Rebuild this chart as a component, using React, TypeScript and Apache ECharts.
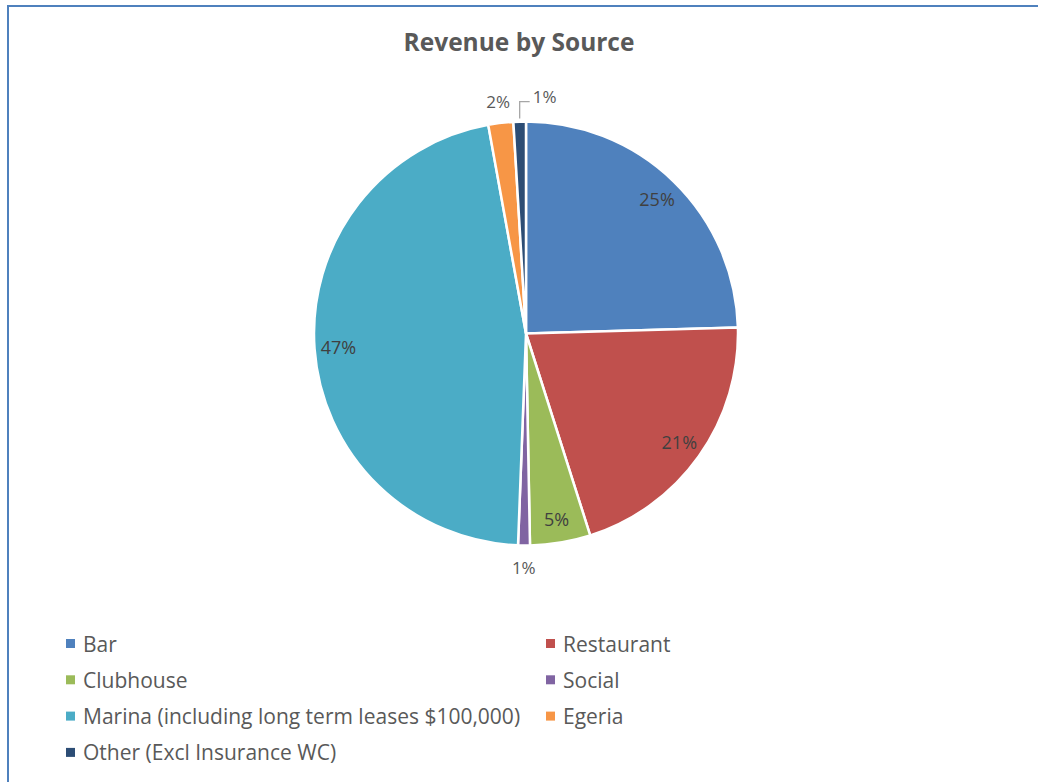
import React, { useEffect, useRef } from "react";
import * as echarts from "echarts";

const categories = [
  "Bar",
  "Restaurant",
  "Clubhouse",
  "Social",
  "Marina (including long term leases $100,000)",
  "Egeria",
  "Other (Excl Insurance WC)",
];
const shares = [24.55, 20.55, 4.6, 0.9, 46.55, 1.9, 0.95];
const colors = ["#4F81BD", "#C0504D", "#9BBB59", "#8064A2", "#4BACC6", "#F79646", "#2C4D75"];
const legendLeft = [categories[0], categories[2], categories[4], categories[6]];
const legendRight = [categories[1], categories[3], categories[5]];
const titleText = "Revenue by Source";

const FONT = "'Open Sans', sans-serif";

export default function App() {
  const ref = useRef<HTMLDivElement>(null);
  useEffect(() => {
    if (!ref.current) return;
    const chart = echarts.init(ref.current, null, { renderer: "svg" });
    const total = shares.reduce((a, b) => a + b, 0);
    const pct = (v: number) => Math.round((v / total) * 100);
    const leaderIdx = categories.length - 1;
    const center = [526, 333.5];
    const R = 212;
    const fmt = (p: any) => pct(p.value) + "%";

    const mainData = categories.map((name, i) => ({
      name,
      value: shares[i],
      itemStyle: { color: colors[i] },
      label:
        i === leaderIdx
          ? { show: true, position: "outside", color: "#595959", fontSize: 17, fontFamily: FONT, formatter: fmt }
          : { show: false },
      labelLine:
        i === leaderIdx
          ? { show: true, length: 16, length2: 10, lineStyle: { color: "#A6A6A6", width: 1.3 } }
          : { show: false },
    }));

    const insideData = categories.map((name, i) => ({
      name,
      value: shares[i],
      itemStyle: { color: "rgba(0,0,0,0)", borderWidth: 0 },
      label: { show: pct(shares[i]) >= 4 },
    }));

    const outsideData = categories.map((name, i) => ({
      name,
      value: shares[i],
      itemStyle: { color: "rgba(0,0,0,0)", borderWidth: 0 },
      label: { show: pct(shares[i]) < 4 && i !== leaderIdx },
    }));

    const legendBase = {
      orient: "vertical",
      top: 633,
      padding: 0,
      itemWidth: 9,
      itemHeight: 9,
      itemGap: 15.3,
      icon: "rect",
      selectedMode: false,
      itemStyle: { borderWidth: 0 },
      textStyle: {
        color: "#595959",
        fontSize: 21,
        fontFamily: FONT,
        lineHeight: 20,
        padding: [0, 0, 0, 3],
      },
    };

    chart.setOption({
      animation: false,
      backgroundColor: "#ffffff",
      title: {
        text: titleText,
        left: "center",
        top: 29,
        padding: 0,
        textStyle: { color: "#595959", fontSize: 24.5, fontWeight: "bold", fontFamily: FONT },
      },
      legend: [
        { ...legendBase, left: 66, data: legendLeft },
        { ...legendBase, left: 546, data: legendRight },
      ],
      graphic: [
        { type: "line", shape: { x1: 8, y1: 6, x2: 8, y2: 782 }, style: { stroke: "#4F81BD", lineWidth: 2 } },
        { type: "line", shape: { x1: 7, y1: 6, x2: 1038, y2: 6 }, style: { stroke: "#4F81BD", lineWidth: 2 } },
      ],
      series: [
        {
          type: "pie",
          center,
          radius: [0, R],
          startAngle: 90,
          clockwise: true,
          avoidLabelOverlap: false,
          emphasis: { disabled: true },
          itemStyle: { borderColor: "#ffffff", borderWidth: 2.5 },
          data: mainData,
          labelLayout: (params: any) => {
            if (params.dataIndex !== leaderIdx || !params.labelLinePoints) return {};
            const p0 = params.labelLinePoints[0];
            const s = [p0[0], p0[1] - 3];
            const p1 = [p0[0], p0[1] - 20];
            const p2 = [p0[0] + 10, p0[1] - 20];
            return {
              x: p2[0] + 3,
              y: p2[1] - 5,
              align: "left",
              verticalAlign: "middle",
              labelLinePoints: [s, p1, p2],
            };
          },
        },
        {
          type: "pie",
          center,
          radius: [158, R],
          startAngle: 90,
          clockwise: true,
          silent: true,
          avoidLabelOverlap: false,
          emphasis: { disabled: true },
          label: { position: "inside", color: "#404040", fontSize: 18, fontFamily: FONT, formatter: fmt },
          labelLine: { show: false },
          data: insideData,
        },
        {
          type: "pie",
          center,
          radius: [R, R + 38],
          startAngle: 90,
          clockwise: true,
          silent: true,
          avoidLabelOverlap: false,
          emphasis: { disabled: true },
          label: { position: "inside", color: "#595959", fontSize: 17, fontFamily: FONT, formatter: fmt },
          labelLine: { show: false },
          data: outsideData,
        },
      ],
    });
    return () => chart.dispose();
  }, []);
  return (
    <div
      ref={ref}
      style={{ position: "fixed", left: 0, top: 0, width: 1038, height: 782, background: "#fff" }}
    />
  );
}
